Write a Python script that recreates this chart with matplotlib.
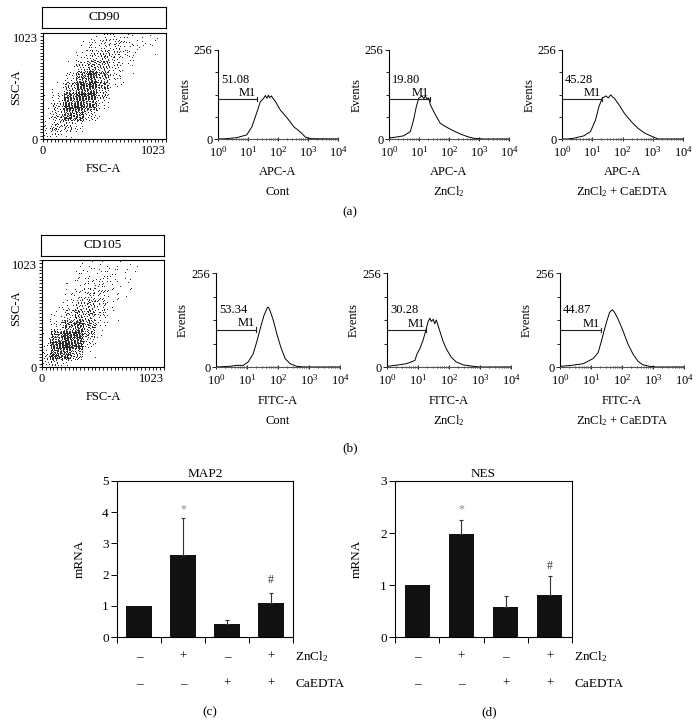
import numpy as np
import matplotlib
matplotlib.use("Agg")
import matplotlib.pyplot as plt
from matplotlib import transforms
from matplotlib.ticker import FixedLocator, MultipleLocator, LogLocator, NullFormatter, LogFormatterMathtext

plt.rcParams['font.family'] = ['Liberation Serif', 'DejaVu Serif']
plt.rcParams['mathtext.fontset'] = 'custom'
plt.rcParams['mathtext.rm'] = 'Liberation Serif'
plt.rcParams['mathtext.it'] = 'Liberation Serif:italic'
plt.rcParams['mathtext.bf'] = 'Liberation Serif:bold'
plt.rcParams['font.size'] = 9
plt.rcParams['axes.linewidth'] = 0.8

# ---------------- values ----------------
surface_markers = ['CD90', 'CD105']
channels = ['APC-A', 'FITC-A']
conditions = ['Cont', 'ZnCl$_2$', 'ZnCl$_2$ + CaEDTA']

# FSC/SSC dot plots: dots per cell, cells of 102.3 units, rows listed bottom -> top
cd90_grid = [
    [35, 15, 0, 0, 0, 0, 0, 0, 0, 0],
    [8, 50, 30, 0, 0, 0, 0, 0, 0, 0],
    [2, 60, 150, 60, 2, 0, 0, 0, 0, 0],
    [2, 30, 160, 150, 25, 0, 0, 0, 0, 0],
    [0, 5, 90, 160, 55, 3, 0, 0, 0, 0],
    [0, 0, 30, 110, 85, 12, 1, 0, 0, 0],
    [0, 0, 5, 45, 75, 22, 5, 0, 0, 0],
    [0, 0, 2, 15, 45, 32, 10, 3, 0, 0],
    [0, 0, 0, 6, 20, 28, 13, 5, 3, 0],
    [0, 0, 0, 2, 8, 16, 13, 9, 5, 2],
]
cd90_top = [0, 2, 8, 15, 20, 20, 18, 15, 12, 10]   # saturated events on the top edge

cd105_grid = [
    [50, 30, 0, 0, 0, 0, 0, 0, 0, 0],
    [15, 200, 110, 5, 0, 0, 0, 0, 0, 0],
    [8, 150, 200, 40, 0, 0, 0, 0, 0, 0],
    [0, 30, 110, 70, 8, 0, 0, 0, 0, 0],
    [0, 8, 45, 60, 25, 2, 0, 0, 0, 0],
    [0, 2, 20, 40, 28, 5, 0, 0, 0, 0],
    [0, 0, 8, 20, 25, 9, 2, 0, 0, 0],
    [0, 0, 4, 10, 16, 9, 3, 0, 0, 0],
    [0, 0, 2, 7, 9, 10, 3, 2, 0, 0],
    [0, 0, 3, 3, 5, 5, 4, 3, 1, 0],
]
cd105_top = [0, 0, 2, 3, 8, 6, 4, 3, 0, 0]

# histogram outlines: log10(intensity), events
cd90_cont_lx = [0.0, 0.3, 0.63, 0.96, 1.13, 1.32, 1.41, 1.52, 1.58, 1.63, 1.68, 1.72, 1.78, 1.85, 1.92, 2.08, 2.31, 2.53, 2.76, 2.92, 3.09, 4.0]
cd90_cont_ev = [0, 1, 4, 12, 35, 83, 107, 117, 125, 117, 126, 119, 124, 115, 107, 83, 60, 35, 19, 5, 1, 0]
cd90_zn_lx = [0.0, 0.03, 0.2, 0.48, 0.71, 0.82, 0.91, 0.99, 1.1, 1.16, 1.21, 1.27, 1.32, 1.38, 1.55, 1.71, 1.94, 2.16, 2.39, 2.61, 2.83, 3.17, 4.0]
cd90_zn_ev = [20, 3, 5, 9, 21, 55, 93, 117, 124, 116, 123, 115, 118, 98, 69, 45, 33, 23, 14, 7, 2, 0, 0]
cd90_znca_lx = [0.0, 0.16, 0.38, 0.72, 0.94, 1.11, 1.22, 1.33, 1.45, 1.53, 1.61, 1.67, 1.73, 1.89, 2.06, 2.29, 2.51, 2.73, 2.96, 3.18, 4.0]
cd90_znca_ev = [0, 0, 2, 9, 21, 55, 93, 117, 124, 118, 127, 121, 117, 98, 74, 50, 31, 17, 8, 0, 0]

cd105_cont_lx = [0.0, 0.45, 0.67, 0.88, 1.04, 1.2, 1.33, 1.44, 1.55, 1.66, 1.69, 1.74, 1.85, 1.96, 2.09, 2.23, 2.39, 2.6, 2.82, 4.0]
cd105_cont_ev = [0, 2, 4.5, 4.5, 14, 36, 73, 109, 141, 162, 163, 154, 127, 91, 54, 23, 9, 2, 0, 0]
cd105_zn_lx = [0.0, 0.04, 0.31, 0.63, 0.9, 0.97, 1.06, 1.16, 1.25, 1.32, 1.38, 1.43, 1.49, 1.54, 1.59, 1.7, 1.8, 1.91, 2.07, 2.23, 2.45, 2.77, 2.98, 4.0]
cd105_zn_ev = [0, 2, 5, 9, 18, 36, 50, 72, 99, 122, 133, 124, 130, 118, 128, 99, 72, 50, 27, 14, 6, 2, 0, 0]
cd105_znca_lx = [0.0, 0.05, 0.43, 0.75, 1.07, 1.23, 1.34, 1.44, 1.5, 1.6, 1.69, 1.76, 1.87, 2.03, 2.19, 2.35, 2.51, 2.67, 2.88, 3.1, 4.0]
cd105_znca_ev = [0, 2, 5, 9, 23, 39, 72, 104, 122, 149, 156, 149, 131, 99, 63, 36, 16, 6, 2, 0, 0]

# M1 gate: percentage, end of the gate (log10) and level (events)
cd90_pct = ['51.08', '19.80', '45.28']
cd90_gate_end = [1.31, 1.36, 1.33]
cd90_gate_lvl = [115, 115, 115]
cd105_pct = ['53.34', '30.28', '44.87']
cd105_gate_end = [1.29, 1.25, 1.31]
cd105_gate_lvl = [102, 101, 101]

# qPCR bars
zncl2_signs = ['\u2013', '+', '\u2013', '+']
caedta_signs = ['\u2013', '\u2013', '+', '+']
map2_mean = [1.0, 2.62, 0.42, 1.08]
map2_err = [0.0, 1.18, 0.13, 0.32]
map2_sig = ['', '*', '', '#']
map2_sig_y = [0, 4.1, 0, 1.83]
nes_mean = [1.0, 1.98, 0.57, 0.80]
nes_err = [0.0, 0.27, 0.21, 0.37]
nes_sig = ['', '*', '', '#']
nes_sig_y = [0, 2.45, 0, 1.37]

# ---------------- layout helpers (pixels, top-left origin) ----------------
W, H = 700, 725
fig = plt.figure(figsize=(W / 100, H / 100), dpi=100)


def rect(x0, y0, x1, y1):
    return [x0 / W, 1 - y1 / H, (x1 - x0) / W, (y1 - y0) / H]


def ftext(x, y, s, **kw):
    kw.setdefault('ha', 'center')
    kw.setdefault('va', 'center')
    fig.text(x / W, 1 - y / H, s, **kw)


# plastic-number sequence to spread dots over each cell (spilling a bit
# into the neighbours so the cell edges do not show)
G = 1.32471795724474602596
A1, A2 = 1 / G, 1 / G ** 2
SPILL = 0.35


def grid_dots(grid, top_row, cell=102.3):
    xs, ys = [], []
    n = 0
    span = 1 + 2 * SPILL
    for r, row in enumerate(grid):
        for c, cnt in enumerate(row):
            for _ in range(cnt):
                n += 1
                xs.append((c - SPILL + span * ((0.5 + n * A1) % 1)) * cell)
                ys.append((r - SPILL + span * ((0.5 + n * A2) % 1)) * cell)
    for c, cnt in enumerate(top_row):
        for _ in range(cnt):
            n += 1
            xs.append((c + (0.5 + n * A1) % 1) * cell)
            ys.append(1014 + ((0.5 + n * A2) % 1) * 7)
    xs = np.array(xs)
    ys = np.array(ys)
    keep = (xs > 3) & (ys > 3)
    return xs[keep], ys[keep]


def draw_dotplot(box_r, ax_r, name, grid, top_row, lab_y, ssc_y):
    bx = fig.add_axes(rect(*box_r))
    bx.set_xticks([]); bx.set_yticks([])
    bx.text(0.5, 0.5, name, ha='center', va='center', fontsize=9.5, transform=bx.transAxes)
    ax = fig.add_axes(rect(*ax_r))
    xs, ys = grid_dots(grid, top_row)
    ax.plot(xs, ys, ',', color='#2a2a2a', linestyle='none')
    ax.set_xlim(0, 1023); ax.set_ylim(0, 1023)
    ax.set_xticks([0, 1023]); ax.set_yticks([0, 1023])
    ax.set_xticklabels(['0', '1023']); ax.set_yticklabels(['0', '1023'])
    ax.get_xticklabels()[1].set_ha('right')
    ax.get_yticklabels()[1].set_va('top')
    ax.xaxis.set_minor_locator(MultipleLocator(32))
    ax.yaxis.set_minor_locator(MultipleLocator(32))
    ax.tick_params(which='both', direction='out', length=2, width=0.6, labelsize=9, pad=2)
    ftext(103, lab_y, 'FSC-A', fontsize=9)
    ftext(16, ssc_y, 'SSC-A', fontsize=9, rotation=90)


def draw_hist(ax_r, lx, ev, pct, g_end, g_lvl, chan, cond, lab_y, cond_y):
    ax = fig.add_axes(rect(*ax_r))
    ax.plot(10 ** np.array(lx), ev, color='k', lw=0.7)
    ax.plot([1, 10 ** g_end], [g_lvl, g_lvl], color='#222', lw=0.8)
    ax.plot([10 ** g_end] * 2, [g_lvl - 6, g_lvl + 6], color='#222', lw=0.8)
    ax.text(10 ** 0.1, g_lvl + 54, pct, ha='left', va='center', fontsize=9)
    ax.text(10 ** (g_end - 0.03), g_lvl + 17, 'M1', ha='right', va='center', fontsize=9)
    ax.set_xscale('log')
    ax.set_xlim(1, 1e4); ax.set_ylim(0, 256)
    ax.xaxis.set_major_locator(LogLocator(base=10, numticks=5))
    ax.xaxis.set_major_formatter(LogFormatterMathtext())
    ax.xaxis.set_minor_locator(LogLocator(base=10, subs=np.arange(2, 10), numticks=20))
    ax.xaxis.set_minor_formatter(NullFormatter())
    ax.yaxis.set_major_locator(FixedLocator([0, 256]))
    ax.yaxis.set_minor_locator(FixedLocator([64, 128, 192]))
    ax.spines['top'].set_visible(False)
    ax.spines['right'].set_visible(False)
    ax.spines['bottom'].set_color('#555')
    ax.tick_params(axis='x', which='major', direction='inout', length=3, width=0.6, labelsize=9, pad=3)
    ax.tick_params(axis='x', which='minor', direction='inout', length=2, width=0.5)
    ax.tick_params(axis='y', which='major', direction='out', length=3, width=0.6, labelsize=9, pad=1)
    ax.tick_params(axis='y', which='minor', direction='out', length=2, width=0.6)
    ax.set_ylabel('Events', fontsize=9)
    ax.yaxis.set_label_coords(-0.22, 0.5)
    cx = (ax_r[0] + ax_r[2]) / 2
    ftext(cx, lab_y, chan, fontsize=9)
    ftext(cx, cond_y, cond, fontsize=9)


def draw_bars(ax_r, title, mean, err, sig, sig_y, ymax, panel):
    ax = fig.add_axes(rect(*ax_r))
    pos = np.arange(len(mean))
    ax.bar(pos, mean, width=0.57, color='#111111', zorder=2)
    for p, m, e in zip(pos, mean, err):
        if e > 0:
            ax.errorbar(p, m, yerr=[[0], [e]], fmt='none', ecolor='#333', elinewidth=0.8,
                        capsize=1.5, capthick=0.8, zorder=3)
    for p, s, y in zip(pos, sig, sig_y):
        if s:
            ax.text(p, y, s, ha='center', va='center', fontsize=8.5,
                    color='#888' if s == '*' else '#333')
    ax.set_xlim(-0.5, len(mean) - 0.5)
    ax.set_ylim(0, ymax)
    ax.set_yticks(np.arange(0, ymax + 1))
    ax.set_xticks(np.arange(-0.5, len(mean)))
    ax.set_xticklabels([])
    ax.tick_params(direction='out', length=4, width=0.7, labelsize=9.5, pad=2)
    ax.set_title(title, fontsize=9.5, pad=3)
    ax.set_ylabel('mRNA', fontsize=9.5)
    ax.yaxis.set_label_coords(-0.18, 0.5)
    tr = transforms.blended_transform_factory(ax.transData, ax.transAxes)
    for p, a, b in zip(pos, zncl2_signs, caedta_signs):
        ax.text(p, -0.128, a, transform=tr, ha='center', va='center', fontsize=9.5)
        ax.text(p, -0.30, b, transform=tr, ha='center', va='center', fontsize=9.5)
    ax.text(len(mean) - 0.45, -0.128, 'ZnCl$_2$', transform=tr, ha='left', va='center', fontsize=9.5)
    ax.text(len(mean) - 0.45, -0.30, 'CaEDTA', transform=tr, ha='left', va='center', fontsize=9.5)
    ax.text(0.53, -0.48, panel, transform=ax.transAxes, ha='center', va='center', fontsize=9.5)


# ---------------- row (a): CD90 ----------------
draw_dotplot((42, 7, 166, 28), (43, 33, 166, 139), surface_markers[0], cd90_grid, cd90_top, 169, 87)
hist_a = [(218, 50, 338, 139), (389, 50, 509, 139), (562, 50, 683, 139)]
a_lx = [cd90_cont_lx, cd90_zn_lx, cd90_znca_lx]
a_ev = [cd90_cont_ev, cd90_zn_ev, cd90_znca_ev]
for i in range(3):
    draw_hist(hist_a[i], a_lx[i], a_ev[i], cd90_pct[i], cd90_gate_end[i], cd90_gate_lvl[i],
              channels[0], conditions[i], 172, 192)
ftext(350, 212, '(a)', fontsize=9.5)

# ---------------- row (b): CD105 ----------------
draw_dotplot((41, 235, 164, 256), (42, 260, 164, 367), surface_markers[1], cd105_grid, cd105_top, 397, 308)
hist_b = [(216, 273, 340, 367), (387, 273, 511, 367), (560, 273, 684, 367)]
b_lx = [cd105_cont_lx, cd105_zn_lx, cd105_znca_lx]
b_ev = [cd105_cont_ev, cd105_zn_ev, cd105_znca_ev]
for i in range(3):
    draw_hist(hist_b[i], b_lx[i], b_ev[i], cd105_pct[i], cd105_gate_end[i], cd105_gate_lvl[i],
              channels[1], conditions[i], 401, 421)
ftext(350, 448, '(b)', fontsize=9.5)

# ---------------- rows (c), (d): qPCR ----------------
draw_bars((117, 481, 293, 637), 'MAP2', map2_mean, map2_err, map2_sig, map2_sig_y, 5, '(c)')
draw_bars((395, 481, 572, 637), 'NES', nes_mean, nes_err, nes_sig, nes_sig_y, 3, '(d)')

fig.savefig('out.png', dpi=100)
